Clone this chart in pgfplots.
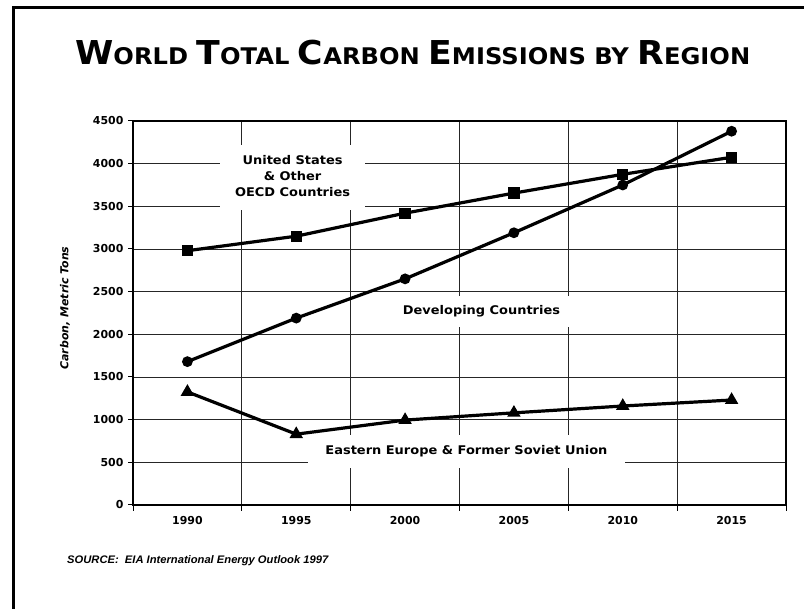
\documentclass[border=0pt]{standalone}
\usepackage{fontspec}
\setmainfont{DejaVu Sans}
\newfontfamily\lib{Liberation Sans}
\usepackage{graphicx}
\usepackage{pgfplots}
\pgfplotsset{compat=1.18}
\newcommand\bigc[1]{{\fontsize{33}{33}\selectfont #1}}
\begin{document}
\begin{tikzpicture}[x=1bp,y=1bp]
\path[use as bounding box] (0,0) rectangle (804,609);
\draw[line width=3bp] (804,601) -- (13,601) -- (13,0);
\node[anchor=base west, inner sep=0pt] at (75,544)
  {\resizebox{675bp}{\height}{\bfseries\fontsize{23}{23}\selectfont \bigc{W}ORLD \bigc{T}OTAL \bigc{C}ARBON \bigc{E}MISSIONS BY \bigc{R}EGION}};
\node[rotate=90, inner sep=0pt] at (65,301) {\fontsize{11}{12}\selectfont\bfseries\itshape Carbon, Metric Tons};
\node[anchor=base west, inner sep=0pt] at (67,45) {\resizebox{261bp}{\height}{\lib\bfseries\itshape\fontsize{11}{12}\selectfont SOURCE:\ \ EIA International Energy Outlook 1997}};
\begin{axis}[
  at={(133bp,104bp)}, anchor=south west, scale only axis,
  width=653bp, height=384bp,
  xmin=-0.5, xmax=5.5, ymin=0, ymax=4500,
  xtick={0,1,2,3,4,5},
  xticklabels={1990,1995,2000,2005,2010,2015},
  minor xtick={-0.5,0.5,1.5,2.5,3.5,4.5,5.5},
  ytick={0,500,1000,1500,2000,2500,3000,3500,4000,4500},
  tick pos=left,
  major x tick style={draw=none},
  tick align=outside,
  major tick length=5bp, minor tick length=6bp,
  every tick/.style={black, line width=1bp},
  ymajorgrids, xminorgrids,
  grid style={black!85, line width=0.9bp},
  axis line style={line width=1.2bp},
  /pgf/number format/assume math mode=true,
  /pgf/number format/set thousands separator={},
  ticklabel style={font=\fontsize{11}{13}\selectfont\bfseries},
  yticklabel style={xshift=-1bp},
  xticklabel style={yshift=-3bp},
]
\addplot[black, line width=3.2bp, mark=square*, mark size=4bp] coordinates {
 (0,2980) (1,3150) (2,3420) (3,3655) (4,3875) (5,4075)};
\addplot[black, line width=3.2bp, mark=*, mark size=3.7bp] coordinates {
 (0,1680) (1,2190) (2,2650) (3,3190) (4,3750) (5,4380)};
\addplot[black, line width=3.2bp, mark=triangle*, mark size=4.6bp] coordinates {
 (0,1325) (1,830) (2,995) (3,1080) (4,1160) (5,1230)};
\node[fill=white, inner sep=0pt, minimum width=145bp, minimum height=65bp] at (axis cs:0.966,3838)
  {\resizebox{115bp}{\height}{\fontsize{12}{16}\selectfont\bfseries\begin{tabular}{@{}c@{}}United States\\\& Other\\OECD Countries\end{tabular}}};
\node[fill=white, inner sep=0pt, minimum width=194bp, minimum height=31bp] at (axis cs:2.702,2268)
  {\resizebox{157bp}{\height}{\fontsize{12}{16}\selectfont\bfseries Developing Countries}};
\node[fill=white, inner sep=0pt, minimum width=317bp, minimum height=33bp] at (axis cs:2.564,627)
  {\resizebox{282bp}{\height}{\fontsize{12}{16}\selectfont\bfseries Eastern Europe \& Former Soviet Union}};
\end{axis}
\end{tikzpicture}
\end{document}
